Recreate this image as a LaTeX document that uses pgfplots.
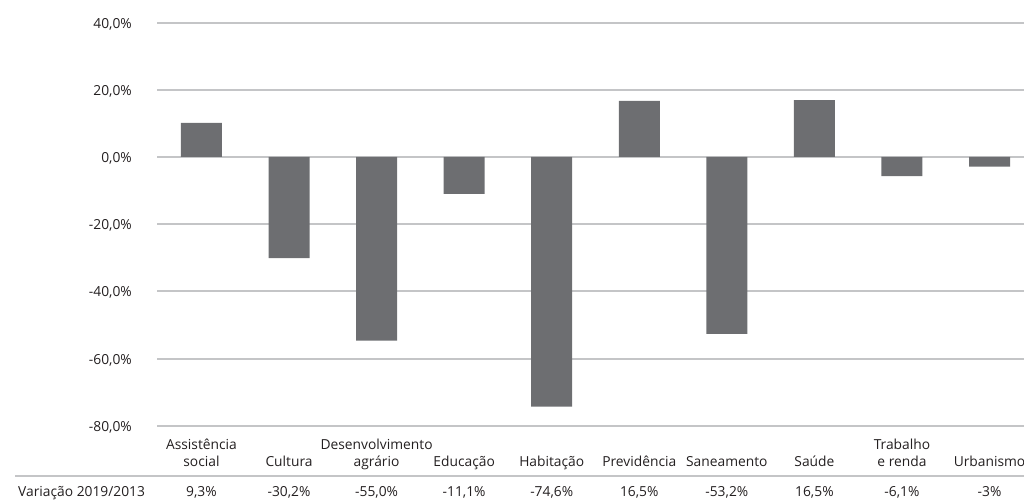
\documentclass[border=0pt]{standalone}
\usepackage{fontspec}
\setmainfont{Open Sans}
\usepackage{pgfplots}
\pgfplotsset{compat=1.18}
\definecolor{barc}{HTML}{6D6E71}
\definecolor{gridc}{HTML}{C4C5C7}
\definecolor{txt}{HTML}{231F20}
\newcommand{\lbl}{\fontsize{13.8}{16.7}\selectfont}
\begin{document}
\begin{tikzpicture}
\useasboundingbox (0pt,0pt) rectangle (1024pt,-501pt);
\begin{scope}
\clip (0pt,0pt) rectangle (1024pt,-501pt);
\begin{axis}[
  at={(157pt,-425.7pt)}, anchor=south west,
  scale only axis, width=867pt, height=403.2pt,
  xmin=-0.508, xmax=9.394, ymin=-80, ymax=40,
  axis line style={draw=none},
  major tick length=0pt,
  ytick={-80,-60,-40,-20,0,20,40},
  yticklabels={{-80,0\%},{-60,0\%},{-40,0\%},{-20,0\%},{0,0\%},{20,0\%},{40,0\%}},
  yticklabel style={anchor=east, inner sep=0pt, xshift=-25pt, yshift=-1.5pt},
  ymajorgrids,
  grid style={gridc, line width=2pt},
  xtick={0,1,2,3,4,5,6,7,8,9},
  xticklabels={{Assistência\\social\strut},{Cultura\strut},{Desenvolvimento\\agrário\strut},{Educação\strut},{Habitação\strut},{Previdência\strut},{Saneamento\strut},{Saúde\strut},{Trabalho\\e renda\strut},{Urbanismo\strut}},
  xticklabel style={align=center, anchor=south, inner sep=0pt, yshift=-45.75pt},
  tick label style={font=\lbl, text=txt},
  clip=false,
]
\addplot[ybar, bar width=41pt, fill=barc, draw=none] coordinates {
  (0,10.1) (1,-30.1) (2,-54.7) (3,-11.0) (4,-74.3)
  (5,16.7) (6,-52.7) (7,16.9) (8,-5.7) (9,-2.9)
};
\node[anchor=base, inner sep=0pt, font=\lbl, text=txt, yshift=-70.3pt] at (axis cs:0,-80) {9,3\%};
\node[anchor=base, inner sep=0pt, font=\lbl, text=txt, yshift=-70.3pt] at (axis cs:1,-80) {-30,2\%};
\node[anchor=base, inner sep=0pt, font=\lbl, text=txt, yshift=-70.3pt] at (axis cs:2,-80) {-55,0\%};
\node[anchor=base, inner sep=0pt, font=\lbl, text=txt, yshift=-70.3pt] at (axis cs:3,-80) {-11,1\%};
\node[anchor=base, inner sep=0pt, font=\lbl, text=txt, yshift=-70.3pt] at (axis cs:4,-80) {-74,6\%};
\node[anchor=base, inner sep=0pt, font=\lbl, text=txt, yshift=-70.3pt] at (axis cs:5,-80) {16,5\%};
\node[anchor=base, inner sep=0pt, font=\lbl, text=txt, yshift=-70.3pt] at (axis cs:6,-80) {-53,2\%};
\node[anchor=base, inner sep=0pt, font=\lbl, text=txt, yshift=-70.3pt] at (axis cs:7,-80) {16,5\%};
\node[anchor=base, inner sep=0pt, font=\lbl, text=txt, yshift=-70.3pt] at (axis cs:8,-80) {-6,1\%};
\node[anchor=base, inner sep=0pt, font=\lbl, text=txt, yshift=-70.3pt] at (axis cs:9,-80) {-3\%};
\end{axis}
\draw[gridc, line width=2pt] (15pt,-476pt) -- (1024pt,-476pt);
\node[anchor=base west, inner sep=0pt, font=\lbl, text=txt] at (18pt,-496pt) {Variação 2019/2013};
\end{scope}
\end{tikzpicture}
\end{document}
